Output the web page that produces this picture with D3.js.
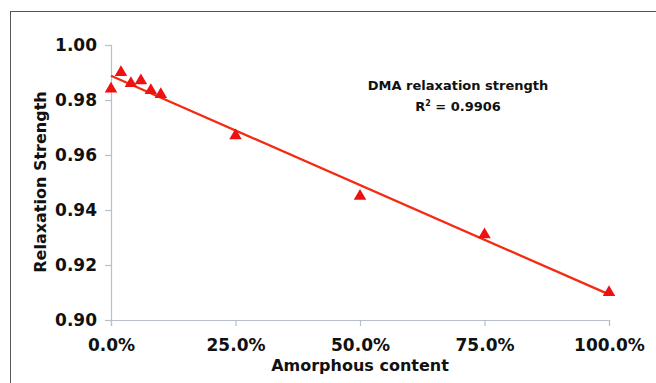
<!DOCTYPE html>
<meta charset="utf-8">
<html>
<head>
  <title>Relaxation strength</title>
  <script src="https://d3js.org/d3.v7.min.js"></script>
</head>
<style>
  body { margin: 0; background: #fff; }
  svg { display: block; font-family: 'DejaVu Sans', Verdana, sans-serif; font-weight: bold; }
</style>
<body>
<script>

  // data
  var amorphous = [0, 0.02, 0.04, 0.06, 0.08, 0.10, 0.25, 0.50, 0.75, 1.00];
  var strength  = [0.984, 0.990, 0.986, 0.987, 0.9835, 0.982, 0.967, 0.945, 0.931, 0.910];
  var xTicks = [0, 0.25, 0.5, 0.75, 1];
  var yTicks = [0.90, 0.92, 0.94, 0.96, 0.98, 1.00];
  var fitLabel = ["DMA relaxation strength", "R", "2", " = 0.9906"];

  var svg = d3.select("body").append("svg")
      .attr("width", 656)
      .attr("height", 383);

  // frame around the chart area
  svg.append("rect")
      .attr("x", 10.5).attr("y", 11.5)
      .attr("width", 700).attr("height", 400)
      .attr("fill", "none")
      .attr("stroke", "#555")
      .attr("stroke-width", 1);

  var x = d3.scaleLinear().domain([0, 1]).range([111, 609]);
  var y = d3.scaleLinear().domain([0.90, 1.00]).range([320, 45]);

  // y axis
  var yAxis = svg.append("g")
      .attr("transform", "translate(" + x(0) + ",0)")
      .call(d3.axisLeft(y).tickValues(yTicks).tickFormat(d3.format(".2f")).tickSize(6).tickPadding(8));

  // x axis
  var xAxis = svg.append("g")
      .attr("transform", "translate(0," + y(0.90) + ")")
      .call(d3.axisBottom(x).tickValues(xTicks).tickFormat(d3.format(".1%")).tickSize(6).tickPadding(13));

  [xAxis, yAxis].forEach(function (a) {
    a.select(".domain").attr("stroke", "#b8bfc6").attr("stroke-width", 1.2);
    a.selectAll(".tick line").attr("stroke", "#b8bfc6").attr("stroke-width", 1.2);
    a.selectAll("text")
      .attr("fill", "#111")
      .attr("font-size", 17)
      .attr("font-family", "'DejaVu Sans', Verdana, sans-serif")
      .attr("font-weight", "bold");
  });

  // linear fit line
  var mx = d3.mean(amorphous), my = d3.mean(strength);
  var sxy = d3.sum(amorphous, function (v, i) { return (v - mx) * (strength[i] - my); });
  var sxx = d3.sum(amorphous, function (v) { return (v - mx) * (v - mx); });
  var slope = sxy / sxx, icpt = my - slope * mx;

  svg.append("line")
      .attr("x1", x(0)).attr("y1", y(icpt))
      .attr("x2", x(1)).attr("y2", y(icpt + slope))
      .attr("stroke", "#f42a12")
      .attr("stroke-width", 2.3);

  // triangle markers
  var tri = d3.symbol().type(d3.symbolTriangle).size(68);
  svg.selectAll(".pt")
      .data(amorphous)
      .enter()
        .append("path")
        .attr("class", "pt")
        .attr("d", tri)
        .attr("transform", function (d, i) { return "translate(" + x(d) + "," + y(strength[i]) + ")"; })
        .attr("fill", "#ee1111");

  // annotation
  svg.append("text")
      .attr("x", 458).attr("y", 90)
      .attr("text-anchor", "middle")
      .attr("font-size", 13)
      .attr("fill", "#111")
      .text(fitLabel[0]);

  var r2 = svg.append("text")
      .attr("x", 458).attr("y", 111)
      .attr("text-anchor", "middle")
      .attr("font-size", 13)
      .attr("fill", "#111");
  r2.append("tspan").text(fitLabel[1]);
  r2.append("tspan").attr("dy", -5).attr("font-size", 8).text(fitLabel[2]);
  r2.append("tspan").attr("dy", 5).text(fitLabel[3]);

  // axis titles
  svg.append("text")
      .attr("x", 360).attr("y", 371)
      .attr("text-anchor", "middle")
      .attr("font-size", 16)
      .attr("fill", "#111")
      .text("Amorphous content");

  svg.append("text")
      .attr("transform", "translate(46,182) rotate(-90)")
      .attr("text-anchor", "middle")
      .attr("font-size", 16)
      .attr("fill", "#111")
      .text("Relaxation Strength");

</script>
</body>
</html>
